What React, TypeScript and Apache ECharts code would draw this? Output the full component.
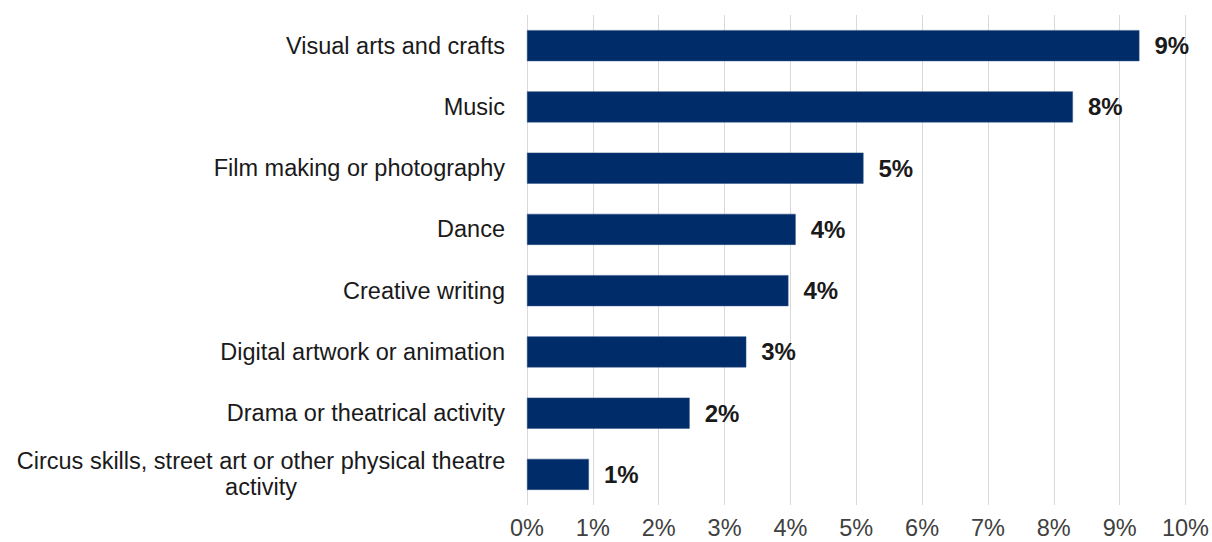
import React, { useEffect, useRef } from "react";
import * as echarts from "echarts";

const categories = [
  "Visual arts and crafts",
  "Music",
  "Film making or photography",
  "Dance",
  "Creative writing",
  "Digital artwork or animation",
  "Drama or theatrical activity",
  "Circus skills, street art or other physical theatre activity",
];
const values = [9.3, 8.29, 5.11, 4.08, 3.97, 3.33, 2.47, 0.94];
const xTicks = [0, 1, 2, 3, 4, 5, 6, 7, 8, 9, 10];

const FONT = "Liberation Sans, Arial, sans-serif";

export default function App() {
  const ref = useRef<HTMLDivElement>(null);
  useEffect(() => {
    if (!ref.current) return;
    const chart = echarts.init(ref.current, null, { renderer: "svg" });
    chart.setOption({
      animation: false,
      grid: { left: 527, right: 26, top: 15, bottom: 37, containLabel: false },
      xAxis: {
        type: "value",
        min: xTicks[0],
        max: xTicks[xTicks.length - 1],
        interval: 1,
        axisLine: { show: false },
        axisTick: { show: false },
        splitLine: { show: true, lineStyle: { color: "#d9d9d9", width: 1 } },
        axisLabel: {
          formatter: (v: number) => `${v}%`,
          color: "#404040",
          fontSize: 23.5,
          fontFamily: FONT,
          margin: 11,
        },
      },
      yAxis: {
        type: "category",
        data: categories,
        inverse: true,
        axisLine: { show: false },
        axisTick: { show: false },
        axisLabel: {
          color: "#1a1a1a",
          fontSize: 23.5,
          fontFamily: FONT,
          margin: 22,
          lineHeight: 26,
          formatter: (v: string) => {
            if (v.startsWith("Circus")) {
              return "{c|Circus skills, street art or other physical theatre}\n{c|activity}";
            }
            return v;
          },
          rich: {
            c: {
              width: 488,
              align: "center",
              fontSize: 23.5,
              lineHeight: 26,
              color: "#1a1a1a",
              fontFamily: FONT,
            },
          },
        },
      },
      series: [
        {
          type: "bar",
          data: values,
          barWidth: 31,
          itemStyle: { color: "#002d6a", borderColor: "#2a4f85", borderWidth: 0.5 },
          label: {
            show: true,
            position: "right",
            distance: 15,
            formatter: (p: any) => `${Math.round(p.value)}%`,
            color: "#1a1a1a",
            fontWeight: "bold",
            fontSize: 24,
            fontFamily: FONT,
          },
        },
      ],
    });
    return () => chart.dispose();
  }, []);
  return (
    <div
      ref={ref}
      style={{ position: "fixed", left: 0, top: 0, width: 1212, height: 542, background: "#fff" }}
    />
  );
}
